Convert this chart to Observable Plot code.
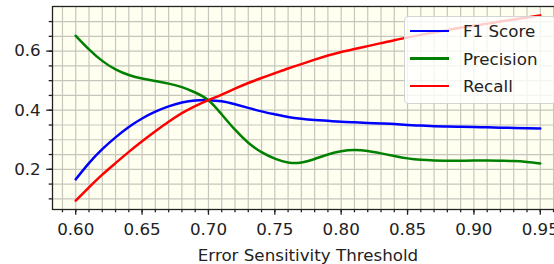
<!DOCTYPE html>
<html><head><meta charset="utf-8">
<script src="https://cdn.jsdelivr.net/npm/d3@7"></script>
<script src="https://cdn.jsdelivr.net/npm/@observablehq/plot@0.6"></script>
<style>
body{margin:0;background:#fff;}
#wrap{position:relative;width:554px;height:264px;overflow:hidden;font-family:"DejaVu Sans",sans-serif;}
#wrap svg{max-width:none !important;}
#legend{position:absolute;left:404px;top:16px;width:152px;height:88px;background:rgba(255,255,255,0.8);border:1px solid #d4d4d4;border-radius:4px;box-sizing:border-box;}
.item{position:absolute;left:0;width:100%;height:0;}
.swatch{position:absolute;left:5px;top:-1.25px;width:39px;height:2.5px;}
.lbl{position:absolute;left:58px;top:-10px;line-height:20px;font-size:16.7px;color:#222;white-space:nowrap;}
</style></head><body>
<div id="wrap"></div>
<script>
const thresholds = [0.60,0.61,0.62,0.63,0.64,0.65,0.66,0.67,0.68,0.69,0.70,0.71,0.72,0.73,0.74,0.75,0.76,0.77,0.78,0.79,0.80,0.81,0.82,0.83,0.84,0.85,0.86,0.87,0.88,0.89,0.90,0.91,0.92,0.93,0.94,0.95];
const f1 = [0.166,0.221,0.268,0.308,0.343,0.372,0.395,0.413,0.426,0.433,0.434,0.430,0.420,0.408,0.396,0.386,0.377,0.371,0.367,0.364,0.361,0.359,0.357,0.355,0.353,0.350,0.348,0.346,0.345,0.344,0.343,0.342,0.341,0.340,0.339,0.338];
const precision = [0.652,0.606,0.567,0.538,0.519,0.507,0.499,0.490,0.478,0.460,0.434,0.386,0.334,0.290,0.258,0.236,0.223,0.223,0.235,0.250,0.261,0.265,0.262,0.254,0.245,0.237,0.232,0.230,0.229,0.229,0.230,0.230,0.229,0.228,0.225,0.220];
const recall = [0.094,0.139,0.182,0.221,0.259,0.295,0.329,0.361,0.390,0.414,0.434,0.453,0.473,0.492,0.509,0.525,0.541,0.556,0.571,0.585,0.597,0.607,0.617,0.627,0.637,0.646,0.655,0.663,0.671,0.679,0.686,0.693,0.700,0.707,0.714,0.721];
const seriesNames = ["F1 Score","Precision","Recall"];
const seriesColors = ["blue","green","red"];
const xTicks = [0.60,0.65,0.70,0.75,0.80,0.85,0.90,0.95];
const xMinor = [0.59,0.60,0.61,0.62,0.63,0.64,0.65,0.66,0.67,0.68,0.69,0.70,0.71,0.72,0.73,0.74,0.75,0.76,0.77,0.78,0.79,0.80,0.81,0.82,0.83,0.84,0.85,0.86,0.87,0.88,0.89,0.90,0.91,0.92,0.93,0.94,0.95,0.96];
const yTicks = [0.2,0.4,0.6];
const yMinor = [0.10,0.15,0.20,0.25,0.30,0.35,0.40,0.45,0.50,0.55,0.60,0.65,0.70];
const xLabel = "Error Sensitivity Threshold";

const rows = [];
[f1, precision, recall].forEach((arr, i) => arr.forEach((v, j) => rows.push({t: thresholds[j], v, s: seriesNames[i]})));

const gridColor = "#c6c6bd";
const chart = Plot.plot({
  width: 564, height: 264,
  marginLeft: 52, marginRight: 1, marginTop: 6, marginBottom: 55,
  style: {fontFamily: "DejaVu Sans", fontSize: "16.7px", background: "transparent", overflow: "visible", color: "#222", maxWidth: "none"},
  x: {domain: [0.5825, 0.9675]},
  y: {domain: [0.064, 0.751]},
  color: {domain: seriesNames, range: seriesColors},
  marks: [
    Plot.frame({fill: "#fffff0", stroke: null}),
    Plot.ruleX(xMinor, {stroke: gridColor, strokeWidth: 1.2}),
    Plot.ruleY(yMinor, {stroke: gridColor, strokeWidth: 1.2}),
    Plot.line(rows, {x: "t", y: "v", z: "s", stroke: "s", strokeWidth: 2.5, curve: "natural"}),
    Plot.axisX({ticks: xMinor, tickSize: 3.3, tickFormat: () => "", strokeWidth: 1.3, label: null}),
    Plot.axisX({ticks: xTicks, tickSize: 5.8, tickPadding: 8, tickFormat: d3.format(".2f"), strokeWidth: 1.3, fontSize: 16.7,
      label: xLabel, labelAnchor: "center", labelOffset: 51, labelArrow: "none"}),
    Plot.axisY({ticks: yMinor, tickSize: 3.3, tickFormat: () => "", strokeWidth: 1.3, label: null}),
    Plot.axisY({ticks: yTicks, tickSize: 5.8, tickPadding: 6, tickFormat: d3.format(".1f"), strokeWidth: 1.3, fontSize: 16.7, label: null}),
    Plot.frame({stroke: "#222", strokeWidth: 1.3})
  ]
});
const wrap = document.getElementById("wrap");
wrap.appendChild(chart);

const legend = document.createElement("div");
legend.id = "legend";
const rowTops = [14, 41.5, 69];
seriesNames.forEach((name, i) => {
  const item = document.createElement("div");
  item.className = "item";
  item.style.top = rowTops[i] + "px";
  const sw = document.createElement("div");
  sw.className = "swatch";
  sw.style.background = seriesColors[i];
  const lb = document.createElement("div");
  lb.className = "lbl";
  lb.textContent = name;
  item.appendChild(sw); item.appendChild(lb);
  legend.appendChild(item);
});
wrap.appendChild(legend);
</script>
</body></html>
